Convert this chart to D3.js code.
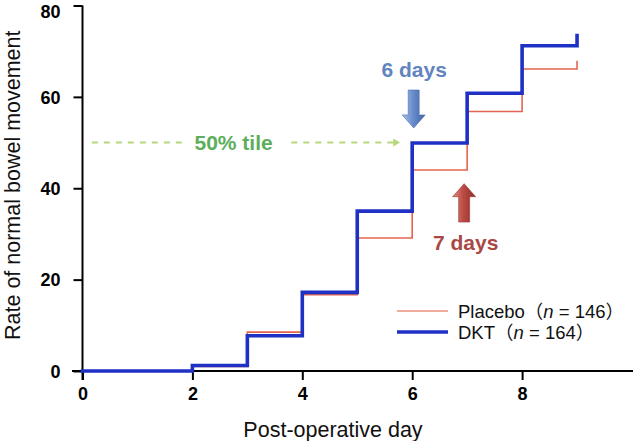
<!DOCTYPE html>
<html>
<head>
<meta charset="utf-8">
<script src="https://cdn.jsdelivr.net/npm/d3@7"></script>
<style>
  html, body { margin: 0; padding: 0; background: #fff; }
  svg { display: block; }
  text { font-family: "Liberation Sans", Arial, "Noto Sans CJK JP", sans-serif; }
</style>
</head>
<body>
<svg id="chart" width="633" height="441"></svg>
<script>
// ---- data ----
const days     = [0, 2, 3, 4, 5, 6, 7, 8, 9];
const placebo  = [0, 1.0, 8.5, 16.7, 29.1, 44.0, 56.8, 66.1, 67.9];
const dkt      = [0, 1.2, 7.7, 17.2, 35.0, 49.9, 60.8, 71.2, 73.4];
const xTicks   = [0, 2, 4, 6, 8];
const yTicks   = [0, 20, 40, 60, 80];
const seriesNames = ["Placebo", "DKT"];
const seriesN     = [146, 164];
const medianLevel = 50;
const medianLabel = "50% tile";
const dktMedianDay = 6, dktMedianLabel = "6 days";
const placeboMedianDay = 7, placeboMedianLabel = "7 days";

// ---- layout ----
const svg = d3.select("#chart");
const x = d3.scaleLinear().domain([0, 10]).range([82.5, 632]);
const y = d3.scaleLinear().domain([0, 80]).range([371, 5.5]);

const FONT = '"Liberation Sans", Arial, "Noto Sans CJK JP", sans-serif';
const colRed = "#e3654f", colBlue = "#1f31c4";

// gradients for 3D arrows
const defs = svg.append("defs");
function grad(id, stops) {
  const g = defs.append("linearGradient").attr("id", id)
    .attr("x1", "0%").attr("x2", "100%").attr("y1", "0%").attr("y2", "0%");
  stops.forEach(([o, c]) => g.append("stop").attr("offset", o).attr("stop-color", c));
}
grad("gBlue", [["0%", "#a9c3ea"], ["45%", "#6b8fcc"], ["100%", "#3e62a6"]]);
grad("gRed",  [["0%", "#e08a82"], ["45%", "#bb4c45"], ["100%", "#8c2d29"]]);

// ---- axes ----
const xAxis = svg.append("g").attr("transform", `translate(0,${y(0)})`)
  .call(d3.axisBottom(x).tickValues(xTicks).tickSize(9).tickPadding(6).tickSizeOuter(0));
xAxis.select(".domain").attr("d", `M72,0H633`).attr("stroke", "#000").attr("stroke-width", 2);
xAxis.selectAll(".tick line").attr("stroke", "#000").attr("stroke-width", 2);
xAxis.selectAll(".tick text").attr("font-family", FONT).attr("font-size", 18)
  .attr("font-weight", "bold").attr("fill", "#000").attr("dy", "0.78em");

const yAxis = svg.append("g").attr("transform", `translate(${x(0)},0)`)
  .call(d3.axisLeft(y).tickValues(yTicks).tickSize(9).tickPadding(13).tickSizeOuter(0));
yAxis.select(".domain").attr("d", `M0,${y(80)}V380`).attr("stroke", "#000").attr("stroke-width", 2);
yAxis.selectAll(".tick line").attr("stroke", "#000").attr("stroke-width", 2);
yAxis.selectAll(".tick text").attr("font-family", FONT).attr("font-size", 18)
  .attr("font-weight", "bold").attr("fill", "#000")
  .attr("dy", d => d === 80 ? "0.68em" : "0.35em");

// axis titles
svg.append("text").attr("x", 333).attr("y", 437).attr("text-anchor", "middle")
  .attr("font-size", 21.5).attr("fill", "#111").text("Post-operative day");
svg.append("text").attr("transform", `translate(19.5,${(y(0) + y(80)) / 2 - 3}) rotate(-90)`)
  .attr("text-anchor", "middle").attr("font-size", 21.5).attr("fill", "#111")
  .text("Rate of normal bowel movement");

// ---- median dashed line ----
const dashCol = "#b8d67c";
svg.append("line").attr("x1", x(0.17)).attr("x2", x(1.85))
  .attr("y1", y(medianLevel)).attr("y2", y(medianLevel))
  .attr("stroke", dashCol).attr("stroke-width", 2).attr("stroke-dasharray", "6,6");
svg.append("line").attr("x1", x(3.8)).attr("x2", x(5.7))
  .attr("y1", y(medianLevel)).attr("y2", y(medianLevel))
  .attr("stroke", dashCol).attr("stroke-width", 2).attr("stroke-dasharray", "6,6");
{
  const ax = x(5.78), ay = y(medianLevel);
  svg.append("path").attr("d", `M${ax - 7},${ay - 4}L${ax},${ay}L${ax - 7},${ay + 4}Z`).attr("fill", dashCol);
}
svg.append("text").attr("x", x(2.75)).attr("y", y(medianLevel) + 7.5).attr("text-anchor", "middle")
  .attr("font-size", 21).attr("font-weight", "bold").attr("fill", "#5dae5a").text(medianLabel);

// ---- step lines ----
const line = d3.line().x(d => x(d[0])).y(d => y(d[1])).curve(d3.curveStepAfter);
svg.append("path").datum(days.map((d, i) => [d, placebo[i]]))
  .attr("d", line).attr("fill", "none").attr("stroke", colRed).attr("stroke-width", 1.6);
svg.append("path").datum(days.map((d, i) => [d, dkt[i]]))
  .attr("d", line).attr("fill", "none").attr("stroke", colBlue).attr("stroke-width", 3.6)
  .attr("stroke-linejoin", "miter").attr("stroke-linecap", "square");

// ---- arrows ----
function arrow(cx, yStart, yTip, fill, stroke) {
  const dir = yTip > yStart ? 1 : -1;
  const sh = 5.5, hh = 11.5, hl = 13;
  const yb = yTip - dir * hl;
  const p = `M${cx - sh},${yStart}L${cx + sh},${yStart}L${cx + sh},${yb}L${cx + hh},${yb}` +
            `L${cx},${yTip}L${cx - hh},${yb}L${cx - sh},${yb}Z`;
  svg.append("path").attr("d", p).attr("fill", fill).attr("stroke", stroke).attr("stroke-width", 0.6);
}
// DKT median: 6 days (down arrow)
arrow(x(dktMedianDay) + 1.5, y(61.5), y(53.2), "url(#gBlue)", "#4e6fae");
svg.append("text").attr("x", x(dktMedianDay) + 2).attr("y", 77).attr("text-anchor", "middle")
  .attr("font-size", 21).attr("font-weight", "bold").attr("fill", "#6284bf").text(dktMedianLabel);
// Placebo median: 7 days (up arrow)
arrow(x(placeboMedianDay) - 3, y(32.6), y(41.0), "url(#gRed)", "#9a3632");
svg.append("text").attr("x", x(placeboMedianDay) - 1.5).attr("y", 249.5).attr("text-anchor", "middle")
  .attr("font-size", 21).attr("font-weight", "bold").attr("fill", "#a94845").text(placeboMedianLabel);

// ---- legend ----
const legend = svg.append("g");
[0, 1].forEach(i => {
  const ly = i === 0 ? 311 : 332;
  legend.append("line").attr("x1", 397).attr("x2", 448).attr("y1", ly).attr("y2", ly)
    .attr("stroke", i === 0 ? "#e8907f" : colBlue).attr("stroke-width", i === 0 ? 1.6 : 3.6);
  const t = legend.append("text").attr("x", 458).attr("y", ly + 6.5)
    .attr("font-size", 18.5).attr("fill", "#111");
  t.append("tspan").text(seriesNames[i] + "（");
  t.append("tspan").attr("font-style", "italic").text("n");
  t.append("tspan").text(" = " + seriesN[i] + "）");
});
</script>
</body>
</html>
